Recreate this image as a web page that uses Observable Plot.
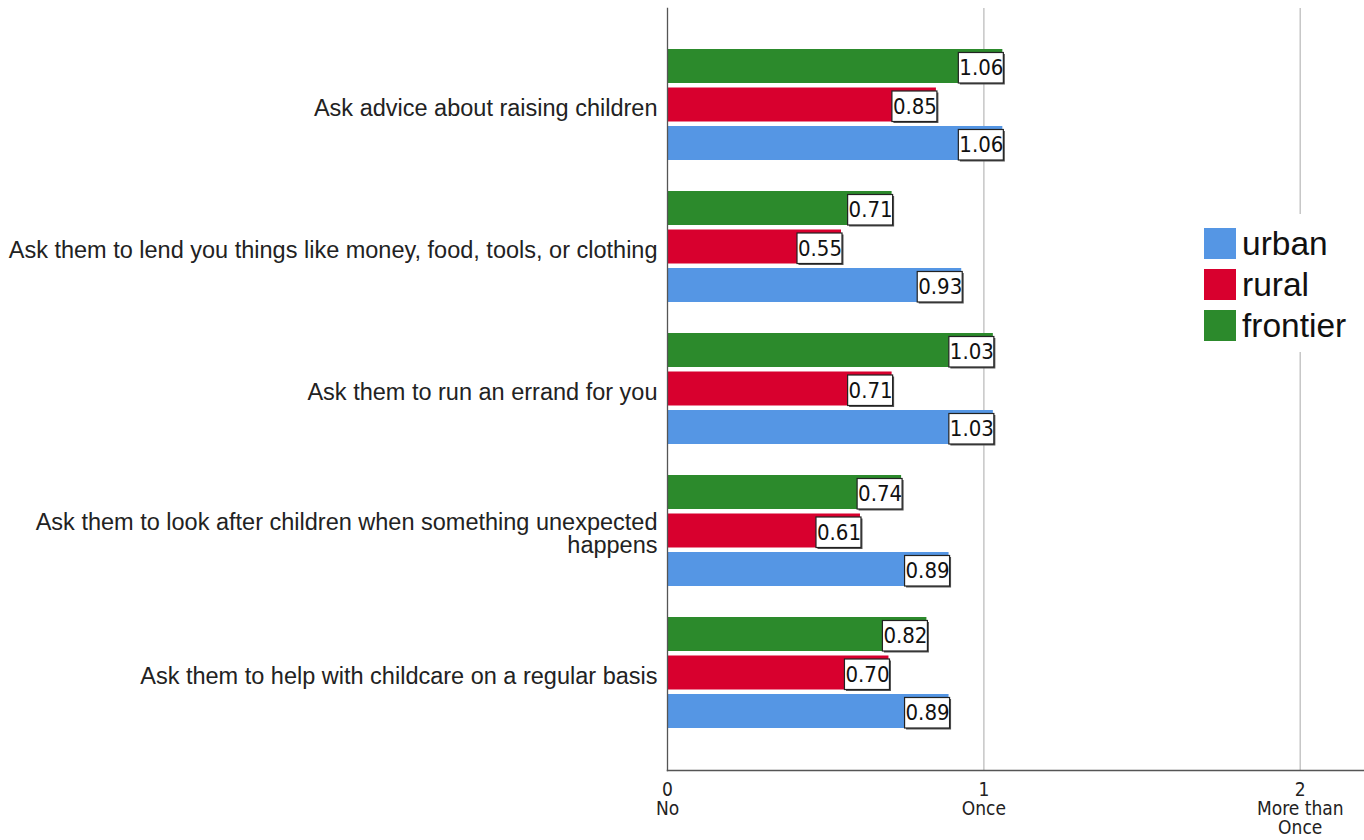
<!DOCTYPE html>
<html><head><meta charset="utf-8">
<script src="https://cdn.jsdelivr.net/npm/d3@7"></script>
<script src="https://cdn.jsdelivr.net/npm/@observablehq/plot@0.6"></script>
<style>
body{margin:0;background:#fff;}
#wrap{position:relative;width:1364px;height:840px;overflow:hidden;}
#legend{position:absolute;left:1198px;top:214px;width:158px;height:138px;box-sizing:border-box;padding-top:9px;background:#fff;font-family:"Liberation Sans",Arial,sans-serif;font-size:33.5px;color:#111;}
.row{display:flex;align-items:center;height:41px;}
.sw{width:32px;height:31px;margin-left:6px;margin-right:6px;flex:none;}
</style></head><body><div id="wrap"><div id="chart"></div><div id="legend"></div></div>
<script>
const categories = [
  "Ask advice about raising children",
  "Ask them to lend you things like money, food, tools, or clothing",
  "Ask them to run an errand for you",
  "Ask them to look after children when something unexpected happens",
  "Ask them to help with childcare on a regular basis"
];
const categoryLabels = [
  "Ask advice about raising children",
  "Ask them to lend you things like money, food, tools, or clothing",
  "Ask them to run an errand for you",
  "Ask them to look after children when something unexpected\nhappens",
  "Ask them to help with childcare on a regular basis"
];
const seriesNames = ["frontier", "rural", "urban"];
const frontierValues = [1.06, 0.71, 1.03, 0.74, 0.82];
const ruralValues = [0.85, 0.55, 0.71, 0.61, 0.70];
const urbanValues = [1.06, 0.93, 1.03, 0.89, 0.89];
const seriesColors = ["#2c8a2c", "#d8002e", "#5596e4"];
const legendOrder = ["urban", "rural", "frontier"];
const xTicks = [0, 1, 2];
const xTickLabels = ["0\nNo", "1\nOnce", "2\nMore than\nOnce"];

const valuesBySeries = {frontier: frontierValues, rural: ruralValues, urban: urbanValues};
const colorBySeries = Object.fromEntries(seriesNames.map((s, i) => [s, seriesColors[i]]));

// slot layout inside each category band (pixels)
const slot = {
  frontier: {top: 0, bottom: 77, dy: -36.75},
  rural: {top: 38.5, bottom: 38.5, dy: 1.75},
  urban: {top: 77, bottom: 0, dy: 40.25}
};
const narrow = "'Liberation Sans Narrow', 'Arial Narrow', 'DejaVu Sans Condensed', sans-serif";

const marks = [
  Plot.ruleX(xTicks.slice(1), {stroke: "#c6c6c6", strokeWidth: 1.5})
];
for (const s of seriesNames) {
  const data = categories.map((c, i) => ({category: c, value: valuesBySeries[s][i]}));
  const sl = slot[s];
  marks.push(Plot.barX(data, {y: "category", x1: 0, x2: "value", fill: colorBySeries[s], insetTop: sl.top, insetBottom: sl.bottom}));
  marks.push(Plot.barX(data, {y: "category", x1: "value", x2: "value", fill: "#555", insetLeft: -44, insetRight: -1, insetTop: sl.top + 3.5, insetBottom: sl.bottom, dx: 1.5, dy: 1.5}));
  marks.push(Plot.barX(data, {y: "category", x1: "value", x2: "value", fill: "#fff", stroke: "#222", strokeWidth: 1.2, insetLeft: -44, insetRight: -1, insetTop: sl.top + 3.5, insetBottom: sl.bottom}));
  marks.push(Plot.text(data, {y: "category", x: "value", text: d => d.value.toFixed(2), dx: -21.5, dy: sl.dy, textAnchor: "middle", fontSize: 22, fontFamily: narrow, fill: "#111"}));
}
marks.push(
  Plot.frame({anchor: "left", stroke: "#555", strokeWidth: 1.3}),
  Plot.frame({anchor: "bottom", stroke: "#555", strokeWidth: 1.5}),
  Plot.axisX({ticks: xTicks, tickSize: 0, tickPadding: 12, tickFormat: d => xTickLabels[xTicks.indexOf(d)], fontSize: 19, fontFamily: narrow, lineHeight: 1.0, label: null, fill: "#222"}),
  Plot.axisY({tickSize: 0, tickPadding: 10, tickFormat: d => categoryLabels[categories.indexOf(d)], fontSize: 23.5, label: null, fill: "#222", dy: 3})
);

const chart = Plot.plot({
  width: 1364,
  height: 840,
  marginTop: 8,
  marginBottom: 70,
  marginLeft: 667,
  marginRight: 1,
  style: {fontFamily: "'Liberation Sans', Arial, sans-serif", background: "#fff"},
  x: {domain: [0, 2.2], label: null},
  y: {domain: categories, paddingInner: 0.218, paddingOuter: 0.292, label: null},
  marks
});
document.getElementById("chart").appendChild(chart);

const legend = document.getElementById("legend");
for (const s of legendOrder) {
  const row = document.createElement("div");
  row.className = "row";
  const sw = document.createElement("div");
  sw.className = "sw";
  sw.style.background = colorBySeries[s];
  const lab = document.createElement("span");
  lab.textContent = s;
  row.appendChild(sw);
  row.appendChild(lab);
  legend.appendChild(row);
}
</script></body></html>
